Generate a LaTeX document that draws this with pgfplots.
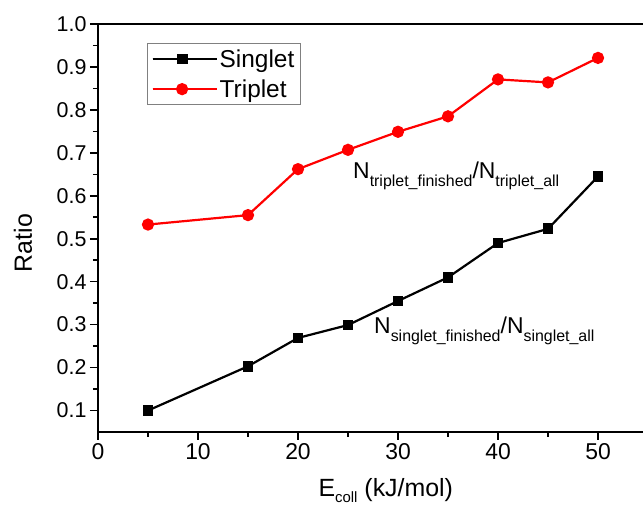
\documentclass[border=0pt]{standalone}
\usepackage{pgfplots}
\pgfplotsset{compat=1.18}
\usepackage{fontspec}
\setmainfont{Liberation Sans}
\begin{document}
\begin{tikzpicture}
\begin{axis}[
  scale only axis,
  width=545bp, height=408bp,
  xmin=0, xmax=54.5, ymin=0.05, ymax=1.0,
  axis x line*=bottom, axis y line*=left,
  axis line style={-, line width=2bp},
  every tick/.style={black, line width=1.6bp},
  tick align=outside,
  major tick length=8bp, minor tick length=5bp,
  xtick={0,10,20,30,40,50},
  ytick={0.1,0.2,0.3,0.4,0.5,0.6,0.7,0.8,0.9,1.0},
  minor x tick num=1, minor y tick num=1,
  /pgf/number format/assume math mode=true,
  xticklabel style={font=\fontsize{23}{23}\selectfont},
  yticklabel style={font=\fontsize{21.5}{21.5}\selectfont, /pgf/number format/.cd, fixed, fixed zerofill, precision=1},
  xlabel={E\raisebox{-6bp}{\fontsize{15}{15}\selectfont coll} (kJ/mol)},
  ylabel={Ratio},
  label style={font=\fontsize{25}{25}\selectfont},
  xlabel style={at={(rel axis cs:0.528,-0.157)}, anchor=base},
  ylabel style={at={(rel axis cs:-0.1376,0.463)}, anchor=center},
  legend style={at={(axis cs:4.9,0.956)}, anchor=north west, draw=gray, line width=1bp,
    font=\fontsize{24.5}{24.5}\selectfont, inner xsep=4bp, inner ysep=4bp, row sep=7bp},
  legend cell align=left,
  legend image code/.code={\draw[mark repeat=2,mark phase=2,#1] plot coordinates {(0bp,0bp) (29.5bp,0bp) (59bp,0bp)};\path (0bp,0bp) -- (64bp,0bp);},
  clip=false,
]
\addplot[black, line width=2.2bp, mark=square*, mark size=4.3bp, mark options={solid}] coordinates {
  (5,0.100) (15,0.203) (20,0.269) (25,0.299) (30,0.355) (35,0.410) (40,0.490) (45,0.523) (50,0.645)
};
\addlegendentry{Singlet}
\addplot[red, line width=2.2bp, mark=*, mark size=5bp, mark options={solid}] coordinates {
  (5,0.533) (15,0.555) (20,0.662) (25,0.707) (30,0.749) (35,0.785) (40,0.871) (45,0.864) (50,0.921)
};
\addlegendentry{Triplet}
\draw[line width=2bp] (rel axis cs:0,1) -- (rel axis cs:1,1);
\node[anchor=base west, inner sep=0pt, font=\fontsize{23}{23}\selectfont] at (axis cs:25.5,0.641)
  {N\raisebox{-8bp}{\fontsize{16}{16}\selectfont triplet\_finished}/N\raisebox{-8bp}{\fontsize{16}{16}\selectfont triplet\_all}};
\node[anchor=base west, inner sep=0pt, font=\fontsize{23}{23}\selectfont] at (axis cs:27.6,0.279)
  {N\raisebox{-8bp}{\fontsize{16}{16}\selectfont singlet\_finished}/N\raisebox{-8bp}{\fontsize{16}{16}\selectfont singlet\_all}};
\coordinate (sw) at (rel axis cs:0,0);
\coordinate (ne) at (rel axis cs:1,1);
\end{axis}
\pgfresetboundingbox
\path ([xshift=-98bp,yshift=-74bp]sw) rectangle ([yshift=24bp]ne);
\end{tikzpicture}
\end{document}
